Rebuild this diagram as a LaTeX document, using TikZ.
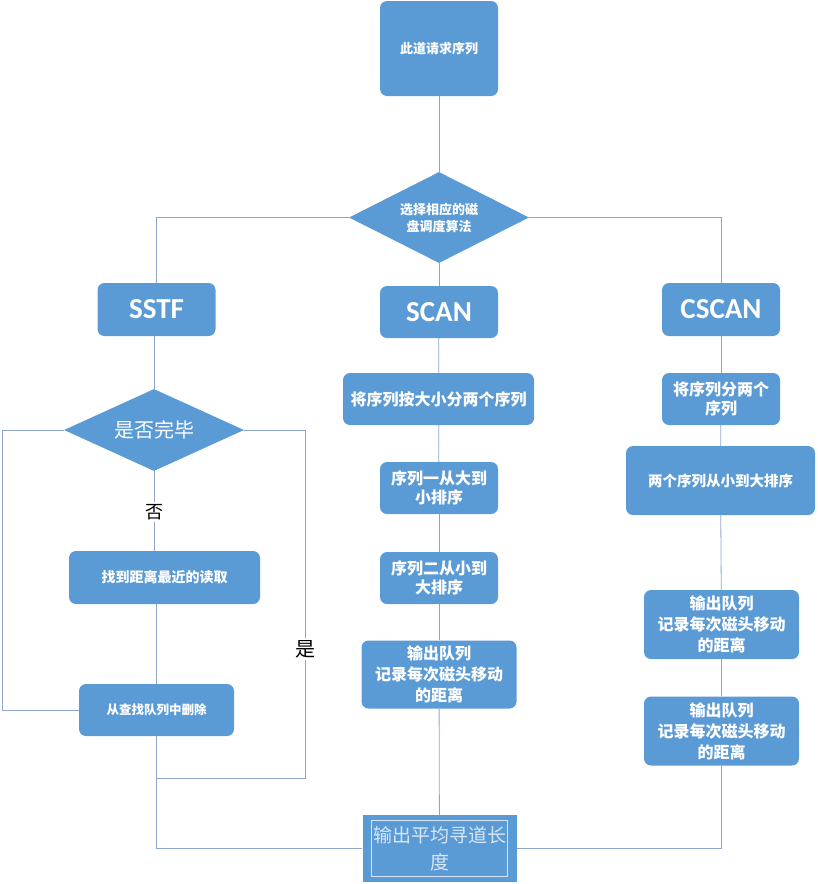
\documentclass[tikz,border=0pt]{standalone}
\usepackage{fontspec}
\usepackage{xcolor}
\usepackage{tikz}
\usetikzlibrary{shapes.geometric, arrows}
\newfontfamily\cjk{Noto Sans CJK SC}
\newfontfamily\calib{Carlito}
\definecolor{bleu}{HTML}{5B9BD5}
\definecolor{gris}{HTML}{8EA6CB}
\definecolor{clair}{HTML}{D6E6F5}
\tikzstyle{box} = [rectangle, 
rounded corners=7pt, 
fill=bleu, 
text=white, 
inner sep=0pt, 
align=center, 
font=\cjk\bfseries]
\tikzstyle{decision} = [diamond, aspect=2, fill=bleu, text=white, inner sep=0pt, align=center]
\tikzstyle{link} = [draw=gris, line width=0.8pt]
\tikzstyle{mot} = [text=black, inner sep=2pt, font=\cjk\fontsize{18}{20}\selectfont]

\begin{document}
\begin{tikzpicture}[x=1pt, y=-1pt]
\useasboundingbox (0,0) rectangle (818,884);

% Requête et choix de l'algorithme
\node[box, minimum width=118pt, minimum height=95pt, font=\cjk\bfseries\fontsize{13}{15}\selectfont] (req) at (439,48.5) {此道请求序列};
\node[decision, minimum width=180pt, minimum height=91pt, font=\cjk\bfseries\fontsize{13}{17}\selectfont] (choix) at (439,217.5) {选择相应的磁\\盘调度算法};

% Les trois algorithmes
\node[box, minimum width=118pt, minimum height=53pt, font=\calib\bfseries\fontsize{29}{30}\selectfont] (sstf) at (156.5,309.5) {SSTF};
\node[box, minimum width=118pt, minimum height=52pt, font=\calib\bfseries\fontsize{29}{30}\selectfont] (scan) at (439,312) {SCAN};
\node[box, minimum width=118pt, minimum height=53pt, font=\calib\bfseries\fontsize{29}{30}\selectfont] (cscan) at (721,309.5) {CSCAN};

% Colonne SSTF
\node[decision, minimum width=180pt, minimum height=82pt, font=\cjk\fontsize{20}{22}\selectfont] (fini) at (154,430) {是否完毕};
\node[box, minimum width=191pt, minimum height=53pt, font=\cjk\bfseries\fontsize{14}{16}\selectfont] (trouve) at (164.5,577.5) {找到距离最近的读取};
\node[box, minimum width=155pt, minimum height=52pt, font=\cjk\bfseries\fontsize{12.5}{14}\selectfont] (suppr) at (156.5,710) {从查找队列中删除};
\node[mot] (non) at (154,512) {否};
\node[mot, font=\cjk\fontsize{20}{22}\selectfont] (oui) at (305,649) {是};

% Colonne SCAN
\node[box, minimum width=191pt, minimum height=52pt, font=\cjk\bfseries\fontsize{16}{19.5}\selectfont] (split) at (438.5,399) {将序列按大小分两个序列};
\node[box, minimum width=118pt, minimum height=52pt, font=\cjk\bfseries\fontsize{16}{19.5}\selectfont] (un) at (439,488) {序列一从大到\\小排序};
\node[box, minimum width=118pt, minimum height=52pt, font=\cjk\bfseries\fontsize{16}{19.5}\selectfont] (deux) at (439,578) {序列二从小到\\大排序};
\node[box, minimum width=155pt, minimum height=68pt, font=\cjk\bfseries\fontsize{16}{21}\selectfont] (sortie) at (439,674.5) {输出队列\\记录每次磁头移动\\的距离};

% Colonne CSCAN
\node[box, minimum width=118pt, minimum height=52pt, font=\cjk\bfseries\fontsize{16}{19.5}\selectfont] (csplit) at (721,399) {将序列分两个\\序列};
\node[box, minimum width=189pt, minimum height=69pt, font=\cjk\bfseries\fontsize{14.5}{16}\selectfont] (ctri) at (720.5,480.5) {两个序列从小到大排序};
\node[box, minimum width=155pt, minimum height=69pt, font=\cjk\bfseries\fontsize{16}{21}\selectfont] (csortie) at (721.5,624.5) {输出队列\\记录每次磁头移动\\的距离};
\node[box, minimum width=155pt, minimum height=69pt, font=\cjk\bfseries\fontsize{16}{21}\selectfont] (csortieb) at (721.5,731) {输出队列\\记录每次磁头移动\\的距离};

% Résultat final
\node[rectangle, fill=bleu, text=clair, inner sep=0pt, align=center, minimum width=154pt, minimum height=67pt, font=\cjk\fontsize{19}{27}\selectfont] (fin) at (439.5,848.5) {输出平均寻道长\\度};
\draw[clair, line width=0.8pt] ([xshift=9pt,yshift=-6pt]fin.north west) rectangle ([xshift=-9pt,yshift=6pt]fin.south east);

% Liaisons
\coordinate (bordG) at (2,430);
\coordinate (joint) at (156.5,778);
\draw[link] (req) -- (choix);
\draw[link] (choix.west) -| (sstf.north);
\draw[link] (choix.east) -| (cscan.north);
\draw[link] (choix) -- (scan);
\draw[link] (sstf.south -| fini.north) -- (fini.north);
\draw[link] (fini.south) -- (non.north);
\draw[link] (non.south) -- (non.south |- trouve.north);
\draw[link] (suppr.north |- trouve.south) -- (suppr.north);
\draw[link] (suppr.west) -| (bordG) -- (fini.west); % retour
\draw[link] (fini.east) -| (oui.north);
\draw[link] (oui.south) |- (joint);
\draw[link] (suppr.south) |- (fin.west);
\draw[link] (scan) -- (split);
\draw[link] (split) -- (un);
\draw[link] (un) -- (deux);
\draw[link] (deux) -- (sortie);
\draw[link] (sortie) -- (fin);
\draw[link] (cscan) -- (csplit);
\draw[link] (csplit) -- (ctri);
\draw[link] (ctri) -- (csortie);
\draw[link] (csortie) -- (csortieb);
\draw[link] (csortieb.south) |- (fin.east);

\end{tikzpicture}
\end{document}
